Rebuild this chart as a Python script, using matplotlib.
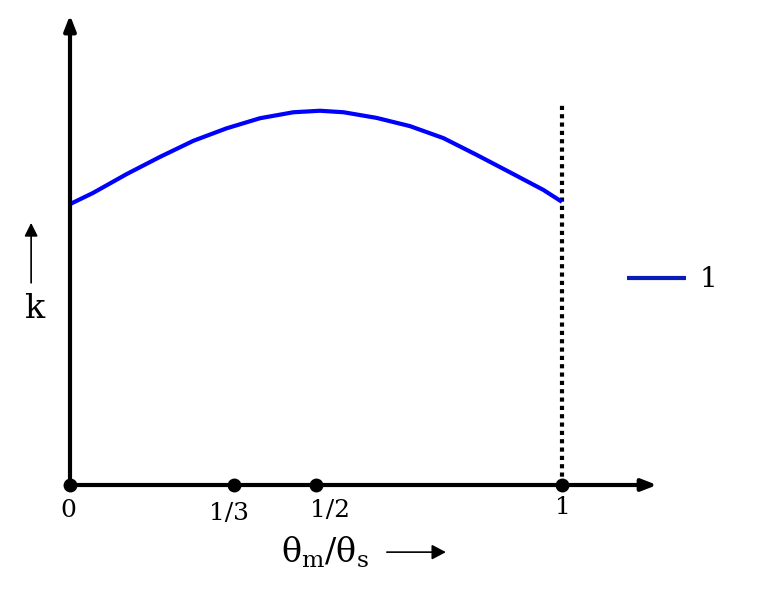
import matplotlib.pyplot as plt
import numpy as np

plt.rcParams['font.family'] = ['DejaVu Serif']
plt.rcParams['mathtext.fontset'] = 'custom'
plt.rcParams['mathtext.rm'] = 'DejaVu Serif'

# theta_m / theta_s and k
ratio = [0.0, 0.047, 0.115, 0.183, 0.251, 0.318, 0.386, 0.454, 0.508,
         0.556, 0.623, 0.691, 0.759, 0.827, 0.894, 0.962, 1.0]
k_vals = [0.749, 0.779, 0.829, 0.875, 0.918, 0.951, 0.978, 0.994, 0.998,
          0.994, 0.979, 0.957, 0.925, 0.880, 0.834, 0.787, 0.755]

marked = [0, 1/3, 1/2, 1]
marked_labels = ['0', '1/3', '1/2', '1']
label_dx = [-0.004, -0.01, 0.028, 0.002]
label_dy = [-0.067, -0.077, -0.069, -0.061]

x_axis_end = 1.193
y_axis_end = 1.253
dotted_top = 1.02

fig = plt.figure(figsize=(7.77, 5.98), dpi=100)
ax = fig.add_axes([0, 0, 1, 1])
ax.set_xlim(-70 / 492, 707 / 492)
ax.set_ylim(-113 / 375, 485 / 375)
ax.axis('off')

# axes with arrow heads
arrow_style = dict(arrowstyle='-|>,head_length=0.9,head_width=0.35', color='black', lw=3,
                   shrinkA=0, shrinkB=0)
ax.annotate('', xy=(x_axis_end, 0), xytext=(0, 0), arrowprops=arrow_style)
ax.annotate('', xy=(0, y_axis_end), xytext=(0, -0.01), arrowprops=arrow_style)

# curve
line, = ax.plot(ratio, k_vals, color='#0000ff', lw=3, solid_capstyle='butt', label='1')

# dotted vertical at 1
ax.plot([1, 1], [0, dotted_top], color='black', lw=3, linestyle=(0, (1, 1)), zorder=1)

# marked points
ax.plot(marked, [0] * len(marked), 'o', color='black', ms=9, zorder=5, clip_on=False)
for xv, lab, dx, dy in zip(marked, marked_labels, label_dx, label_dy):
    ax.text(xv + dx, dy, lab, ha='center', va='center', fontsize=18)

# x label with arrow
ax.text(0.518, -0.18, r'$\mathregular{θ_m/θ_s}$', ha='center', va='center', fontsize=24)
x_arrow = dict(arrowstyle='-|>,head_length=0.85,head_width=0.45', color='black', lw=1.2,
               shrinkA=0, shrinkB=0)
ax.annotate('', xy=(0.764, -0.179), xytext=(0.644, -0.179), arrowprops=x_arrow)

# y label with arrow
ax.text(-0.073, 0.47, 'k', ha='center', va='center', fontsize=24)
k_arrow = dict(arrowstyle='-|>,head_length=0.8,head_width=0.4', color='black', lw=1.2,
               shrinkA=0, shrinkB=0)
ax.annotate('', xy=(-0.079, 0.699), xytext=(-0.079, 0.539), arrowprops=k_arrow)

leg = ax.legend(handles=[line], loc='center left', bbox_to_anchor=(0.775, 0.532),
                frameon=False, fontsize=20, handlelength=2.1, handletextpad=0.5)
leg.get_lines()[0].set_color('#0a1cb8')

fig.savefig('out.png', dpi=100)
